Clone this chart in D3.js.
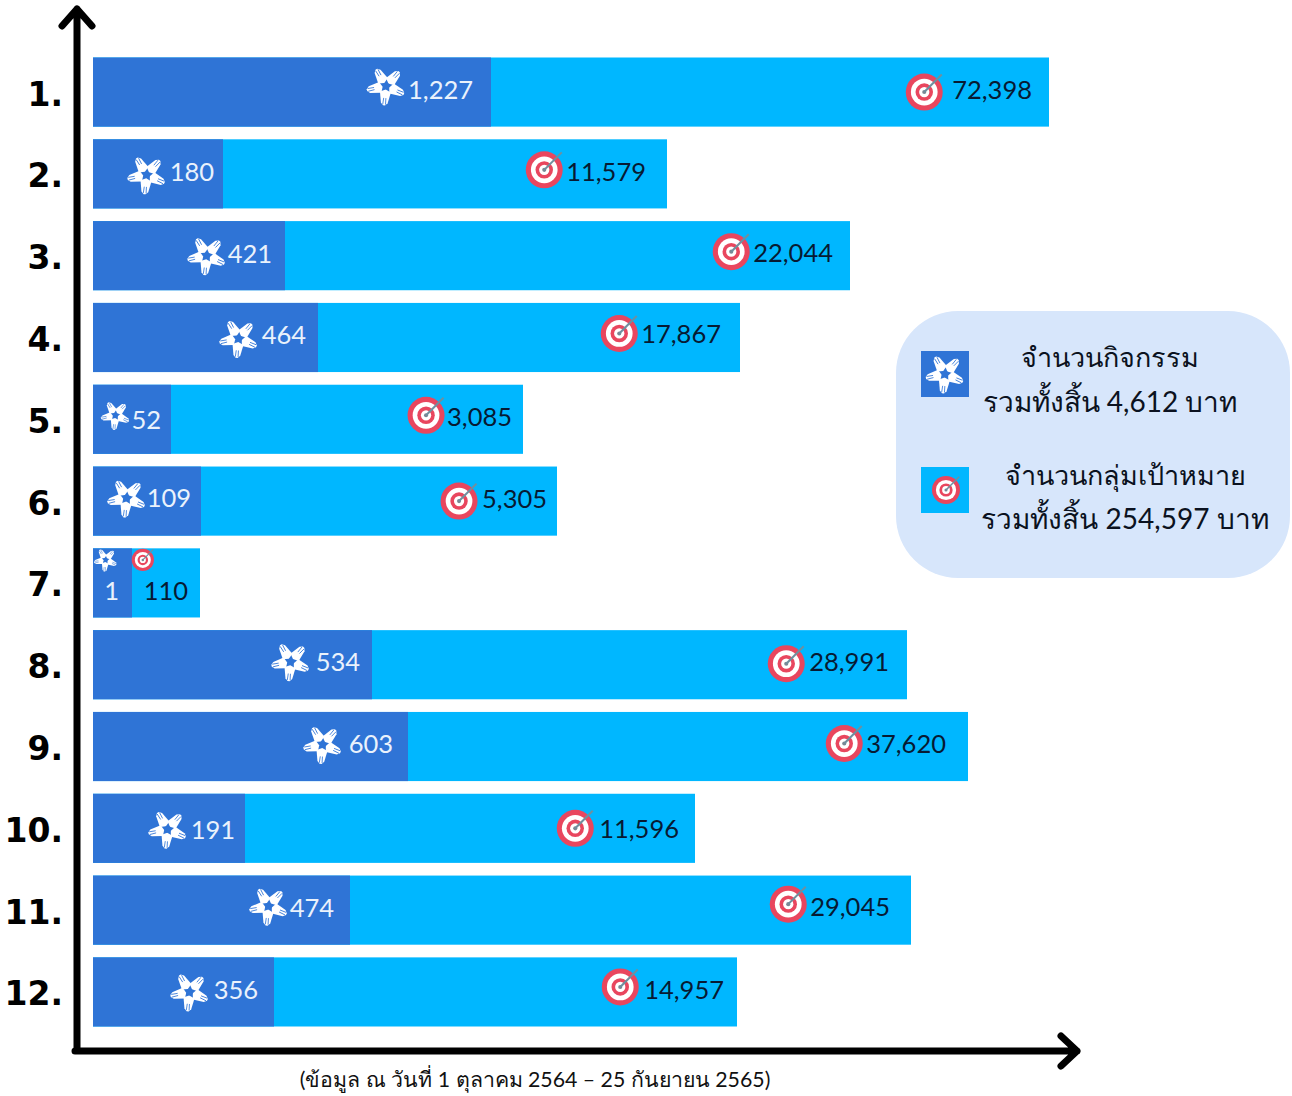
<!DOCTYPE html>
<html>
<head>
  <meta charset="utf-8">
  <title>จำนวนกิจกรรมและกลุ่มเป้าหมาย</title>
  <script src="https://d3js.org/d3.v7.min.js"></script>
  <style>
    html, body { margin: 0; background: #fff; }
    svg { display: block; }
    text { font-family: "Lato", "Noto Sans", sans-serif; }
  </style>
</head>
<body>
<script type="text/javascript">
  var ranks = ["1.", "2.", "3.", "4.", "5.", "6.", "7.", "8.", "9.", "10.", "11.", "12."];
  var activities = [1227, 180, 421, 464, 52, 109, 1, 534, 603, 191, 474, 356];
  var targets = [72398, 11579, 22044, 17867, 3085, 5305, 110, 28991, 37620, 11596, 29045, 14957];

  var legendLines = [
    ["จำนวนกิจกรรม", "รวมทั้งสิ้น 4,612 บาท"],
    ["จำนวนกลุ่มเป้าหมาย", "รวมทั้งสิ้น 254,597 บาท"]
  ];
  var footnote = "(ข้อมูล ณ วันที่ 1 ตุลาคม 2564 – 25 กันยายน 2565)";

  var w = 1292;
  var h = 1096;
  var x0 = 93; // left edge of every bar
  var darkBlue = "#2f74d6";
  var lightBlue = "#00b7ff";
  var red = "#e9465e";

  // the bars in the original are not drawn to value (1,227 is 398px, 180 is 130px),
  // but they do keep the order, so use a piecewise scale pinned at the values
  var activityPx = [39, 78, 108, 130, 152, 181, 192, 225, 257, 279, 315, 398];
  var targetPx = [107, 430, 464, 574, 602, 644, 647, 757, 814, 818, 875, 956];

  var xActivity = d3.scaleLinear()
    .domain(activities.slice().sort(d3.ascending))
    .range(activityPx.map(function(d){ return x0 + d; }));
  var xTarget = d3.scaleLinear()
    .domain(targets.slice().sort(d3.ascending))
    .range(targetPx.map(function(d){ return x0 + d; }));

  var y = d3.scaleBand()
    .domain(ranks)
    .range([57.5, 1026.5])
    .paddingInner(0.155);

  // hand placed nudges for the labels, same as the original (order of the rows)
  var activityGap = [18, 9, 13, 12, 10, 10, 13, 12, 15, 10, 16, 16];
  var targetGap = [17, 21, 17, 19, 11, 10, 12, 18, 22, 16, 21, 13];
  var activityDy = [-2, -2, -2, -2, 1, -3, 8, -3, -2, 2, -2, -2];
  var targetDy = [-2, -2, -3, -3, -2, -2, 8, -3, -2, 1, -3, -2];
  var activityIconDy = [-6, 1, 0, 1, -4, -3, -23, -3, -2, 1, -4, 0];
  var targetIconDy = [0, -4, -4, -4, -4, 0, -23, -1, -3, 0, -6, -5];
  var activityIconGap = [22, 23, 21, 23, 16, 20, 0, 25, 26, 23, 21, 24];
  var targetIconGap = [28, 22, 22, 22, 21, 23, 0, 23, 22, 24, 22, 24];
  var stackedRow = 6; // row 7 is too short, icons sit above the numbers

  var svg = d3.select("body").append("svg")
    .attr("width", w)
    .attr("height", h);

  // five hands making a star
  function starIcon(g, r, color, back){
    for (var i = 0; i < 5; i++){
      var arm = g.append("g")
        .attr("transform", "rotate(" + (i * 72 + 6) + ") scale(" + (r / 18) + ")");
      arm.append("path")
        .attr("d", "M-5.5,6L-3.4,17L-1,19.5L1,19.5L3.4,17L5.5,6L0,3.5Z")
        .attr("fill", color);
      arm.append("path")
        .attr("d", "M-1.1,12L-1.4,18.5M1.1,12L1.4,18.5")
        .attr("fill", "none")
        .attr("stroke", back)
        .attr("stroke-width", 0.8);
    }
    g.append("circle").attr("r", 3.2 * r / 18).attr("fill", back);
  }

  function targetIcon(g, r){
    var k = r / 18;
    [[18, red], [13, "#fff"], [8.5, red], [5, "#fff"], [2, "#7b8794"]].forEach(function(c){
      g.append("circle").attr("r", c[0] * k).attr("fill", c[1]);
    });
    g.append("path")
      .attr("d", "M0,0L" + (17 * k) + "," + (-17 * k))
      .attr("stroke", "#6f8f9f")
      .attr("stroke-width", 2 * k);
  }

  // light bars go under the dark ones
  svg.selectAll(".target")
    .data(targets)
    .enter()
    .append("rect")
    .attr("class", "target")
    .attr("x", x0)
    .attr("y", function(d, i){ return y(ranks[i]); })
    .attr("width", function(d){ return xTarget(d) - x0; })
    .attr("height", y.bandwidth())
    .attr("fill", lightBlue);

  svg.selectAll(".activity")
    .data(activities)
    .enter()
    .append("rect")
    .attr("class", "activity")
    .attr("x", x0)
    .attr("y", function(d, i){ return y(ranks[i]); })
    .attr("width", function(d){ return xActivity(d) - x0; })
    .attr("height", y.bandwidth())
    .attr("fill", darkBlue);

  // value labels, the icon is placed from the measured width of the text
  function addLabels(values, scale, gap, dy, iconGap, iconDy, color, drawIcon, size){
    values.forEach(function(d, i){
      var mid = y(ranks[i]) + y.bandwidth() / 2;
      var t = svg.append("text")
        .attr("x", scale(d) - gap[i])
        .attr("y", mid + dy[i])
        .attr("dy", "0.35em")
        .attr("text-anchor", "end")
        .attr("font-size", 25.5)
        .attr("fill", color)
        .text(d3.format(",")(d));
      var tw = t.node().getComputedTextLength();
      var ix = scale(d) - gap[i] - tw - iconGap[i];
      if (i == stackedRow) ix = scale(d) - gap[i] - tw / 2 - (values === targets ? 23 : 6);
      var g = svg.append("g")
        .attr("transform", "translate(" + ix + "," + (mid + iconDy[i]) + ")");
      drawIcon(g, i == stackedRow ? size * 0.6 : (values === activities && i == 4 ? size * 0.75 : size));
    });
  }

  addLabels(activities, xActivity, activityGap, activityDy, activityIconGap, activityIconDy, "#eaf2fc",
    function(g, r){ starIcon(g, r, "#fff", darkBlue); }, 18);
  addLabels(targets, xTarget, targetGap, targetDy, targetIconGap, targetIconDy, "#071a33",
    function(g, r){ targetIcon(g, r); }, 18.5);

  // rank labels
  var yAxis = svg.append("g")
    .attr("transform", "translate(71,3)")
    .call(d3.axisLeft(y).tickSize(0).tickPadding(8));
  yAxis.select(".domain").remove();
  yAxis.selectAll("text")
    .style("font-family", "'DejaVu Sans', sans-serif")
    .attr("font-weight", "bold")
    .attr("font-size", 33)
    .attr("fill", "#000");

  // arrows
  svg.append("path")
    .attr("d", "M77,1051L77,9M62,26L77,9L92,26M75,1051L1077,1051M1061,1036L1077,1051L1061,1066")
    .attr("fill", "none")
    .attr("stroke", "#000")
    .attr("stroke-width", 7)
    .attr("stroke-linecap", "round")
    .attr("stroke-linejoin", "round");

  // legend
  var legend = svg.append("g");
  legend.append("rect")
    .attr("x", 896).attr("y", 311)
    .attr("width", 394).attr("height", 267)
    .attr("rx", 62)
    .attr("fill", "#d7e6fb");

  legend.append("rect")
    .attr("x", 921).attr("y", 351)
    .attr("width", 48).attr("height", 46)
    .attr("fill", darkBlue);
  starIcon(legend.append("g").attr("transform", "translate(945,374)"), 18, "#fff", darkBlue);

  legend.append("rect")
    .attr("x", 921).attr("y", 467)
    .attr("width", 48).attr("height", 46)
    .attr("fill", lightBlue);
  targetIcon(legend.append("g").attr("transform", "translate(946,490)"), 14);

  [[1110, 358, 27], [1110, 402, 28], [1125, 476, 27], [1125, 519, 28]].forEach(function(p, i){
    legend.append("text")
      .attr("x", p[0])
      .attr("y", p[1])
      .attr("dy", "0.35em")
      .attr("text-anchor", "middle")
      .attr("font-size", p[2])
      .attr("fill", "#0b1220")
      .text(legendLines[Math.floor(i / 2)][i % 2]);
  });

  svg.append("text")
    .attr("x", 535)
    .attr("y", 1080)
    .attr("dy", "0.35em")
    .attr("text-anchor", "middle")
    .attr("font-size", 21.3)
    .attr("fill", "#111")
    .text(footnote);
</script>
</body>
</html>
